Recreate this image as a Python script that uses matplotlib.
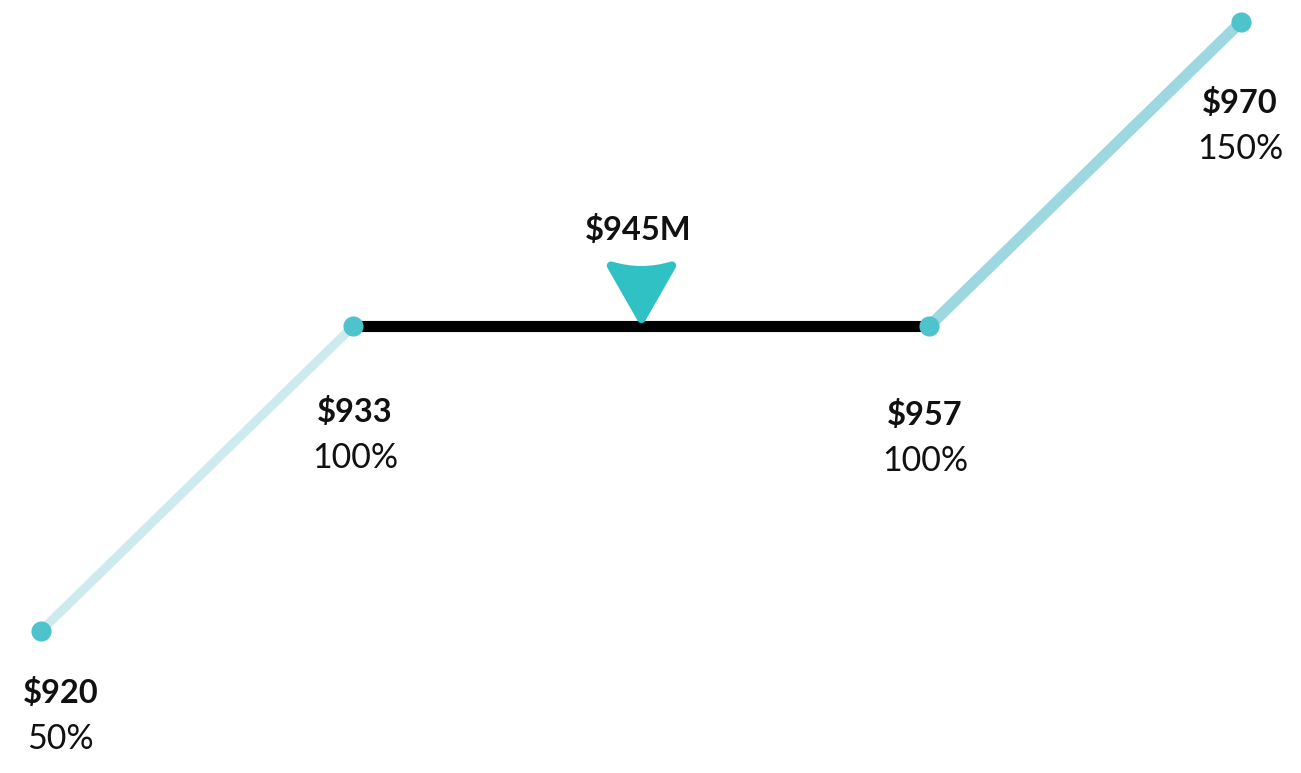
import numpy as np
import matplotlib.pyplot as plt
import matplotlib.transforms as mtrans
from matplotlib.path import Path
from matplotlib.markers import MarkerStyle

# values along the range
prices = [920, 933, 957, 970]
pct = [50, 100, 100, 150]
price_labels = ['$920', '$933', '$957', '$970']
pct_labels = ['50%', '100%', '100%', '150%']
marker_value = 945
marker_label = '$945M'

seg_colors = ['#cdeaee', 'black', '#9dd8e0']
seg_widths = [6.5, 8, 8]

plt.rcParams['font.family'] = ['Lato', 'DejaVu Sans']

fig = plt.figure(figsize=(13.01, 7.73), dpi=100)
ax = fig.add_axes([0, 0, 1, 1])
ax.set_xlim(918.3, 972.5)
ax.set_ylim(26.7, 153.6)
ax.axis('off')

# segments
for i in range(3):
    ax.plot(prices[i:i + 2], pct[i:i + 2], color=seg_colors[i],
            lw=seg_widths[i], solid_capstyle='butt', zorder=2)

ax.plot(prices, pct, 'o', color='#4fc3cb', ms=14.5, mec='none', zorder=3)

# labels under each point (first one nudged inward)
offsets = [(20, -62), (2, -86), (-4, -89), (-1, -81)]
for p, v, pl, ql, (dx, dy) in zip(prices, pct, price_labels, pct_labels, offsets):
    ax.annotate(pl, (p, v), xytext=(dx, dy), textcoords='offset pixels',
                ha='center', va='center', fontsize=23.5, fontweight='bold',
                color='#111111')
    ax.annotate(ql, (p, v), xytext=(dx, dy - 46), textcoords='offset pixels',
                ha='center', va='center', fontsize=24.5, fontweight='normal',
                color='#111111')

# rounded triangle pointer with concave top
verts = [(-1, 0.75), (0, 0.45), (1, 0.75), (0, -1), (-1, 0.75), (-1, 0.75)]
codes = [Path.MOVETO, Path.CURVE3, Path.CURVE3, Path.LINETO, Path.LINETO, Path.CLOSEPOLY]
tri = MarkerStyle(Path(verts, codes), joinstyle='round')
mid = np.interp(marker_value, prices[1:3], pct[1:3])
shift = ax.transData + mtrans.ScaledTranslation(0, 0.38, fig.dpi_scale_trans)
ax.plot([marker_value], [mid], marker=tri, ms=44, color='#2fc1c4',
        mec='#2fc1c4', mew=6, linestyle='none', transform=shift, zorder=4)

ax.annotate(marker_label, (marker_value, mid), xytext=(-3, 96), textcoords='offset pixels',
            ha='center', va='center', fontsize=23.5, fontweight='bold', color='#111111')

fig.savefig('out.png', dpi=100)
